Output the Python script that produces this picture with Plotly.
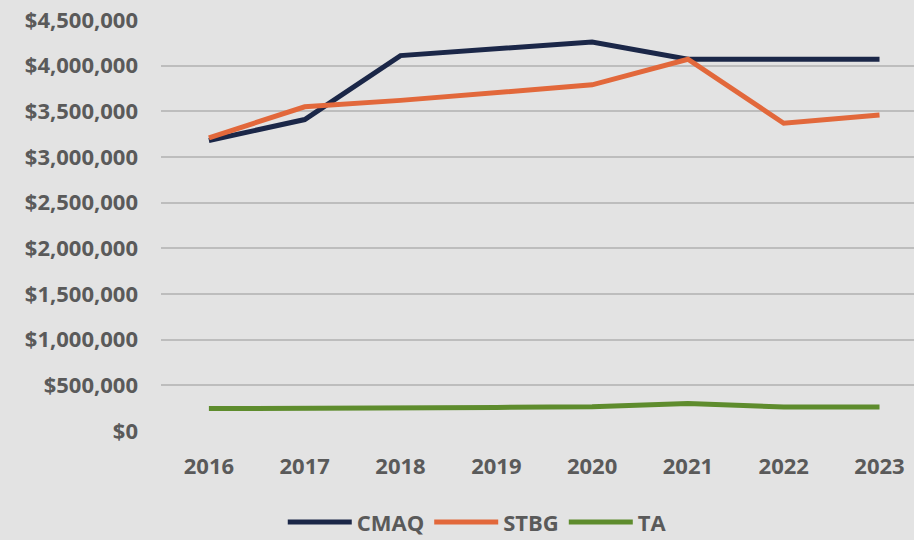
import plotly.graph_objects as go

years = ["2016", "2017", "2018", "2019", "2020", "2021", "2022", "2023"]
cmaq = [3180000, 3410000, 4110000, 4190000, 4260000, 4070000, 4070000, 4070000]
stbg = [3210000, 3550000, 3620000, 3710000, 3790000, 4070000, 3370000, 3460000]
ta = [245000, 245000, 248000, 258000, 265000, 300000, 262000, 262000]

y_ticks = [0, 500000, 1000000, 1500000, 2000000, 2500000, 3000000, 3500000, 4000000, 4500000]
y_tick_text = ["$0", "$500,000", "$1,000,000", "$1,500,000", "$2,000,000",
               "$2,500,000", "$3,000,000", "$3,500,000", "$4,000,000", "$4,500,000"]

series = [
    ("CMAQ", cmaq, "#1b2748"),
    ("STBG", stbg, "#e2683b"),
    ("TA", ta, "#5e8c2d"),
]

xpos = list(range(len(years)))

fig = go.Figure()
for name, vals, color in series:
    fig.add_trace(go.Scatter(
        x=xpos, y=vals, name=name, mode="lines",
        line=dict(color=color, width=5),
    ))

text_font = dict(family="Open Sans, sans-serif", size=22, color="#5a5a5a", weight="bold")

fig.update_layout(
    width=914, height=540,
    paper_bgcolor="#e3e3e3", plot_bgcolor="#e3e3e3",
    margin=dict(l=161, r=0, t=20, b=109, autoexpand=False),
    font=text_font,
    showlegend=True,
    legend=dict(orientation="h", x=0.42, xanchor="center", y=-0.222, yanchor="middle",
                font=text_font, bgcolor="rgba(0,0,0,0)", itemwidth=64),
    xaxis=dict(
        range=[-0.5, 7.36], tickmode="array", tickvals=xpos, ticktext=years,
        showgrid=False, zeroline=False, showline=False, ticks="",
        ticklabelstandoff=20, tickfont=text_font,
    ),
    yaxis=dict(
        range=[0, 4500000], tickmode="array", tickvals=y_ticks, ticktext=y_tick_text,
        showgrid=True, gridcolor="#bdbdbd", gridwidth=1.5, zeroline=False,
        showline=False, ticks="", ticklabelstandoff=22, tickfont=text_font,
    ),
)

fig.write_html("out.html")
